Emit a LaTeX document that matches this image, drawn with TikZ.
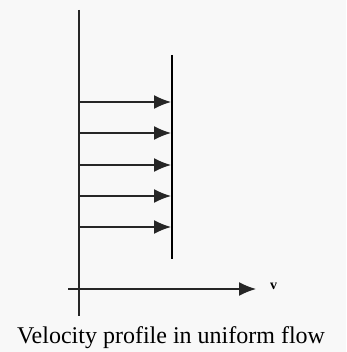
\documentclass[tikz,border=0pt]{standalone}
\usepackage{fontspec}
\setmainfont{Liberation Serif}
\usetikzlibrary{arrows.meta,positioning}
\definecolor{bgpage}{HTML}{F8F8F8}
\begin{document}
\begin{tikzpicture}[x=1pt,y=-1pt,>={Latex[length=17pt,width=14pt]},
 axis/.style={line width=1.4pt,black!85},
 profile/.style={line width=2.8pt},
 flowarrow/.style={->,line width=1.4pt,black!85}]
\fill[bgpage] (0,0) rectangle (346,352);
\useasboundingbox (0,0) rectangle (346,352);
% axes
\coordinate (ytop) at (79,10);
\coordinate (ybot) at (79,316);
\coordinate (xleft) at (68,289);
\coordinate (xright) at (256,289);
\draw[axis] (ytop) -- (ybot);
\draw[->,axis] (xleft) -- (xright);
\node[anchor=west,font=\bfseries\fontsize{14}{14}\selectfont,inner sep=0pt] (vlab) at (270,286) {v};
% uniform profile
\coordinate (ptop) at (172,55);
\coordinate (pbot) at (172,259);
\draw[profile] (ptop) -- (pbot);
\foreach \i/\y in {1/102,2/133,3/165,4/196,5/227} {
 \coordinate (s\i) at (79,\y);
 \coordinate (e\i) at (171,\y);
 \draw[flowarrow] (s\i) -- (e\i);
}
\node[font=\fontsize{24}{28}\selectfont] (caption) at (171,338) {Velocity profile in uniform flow};
\end{tikzpicture}
\end{document}
